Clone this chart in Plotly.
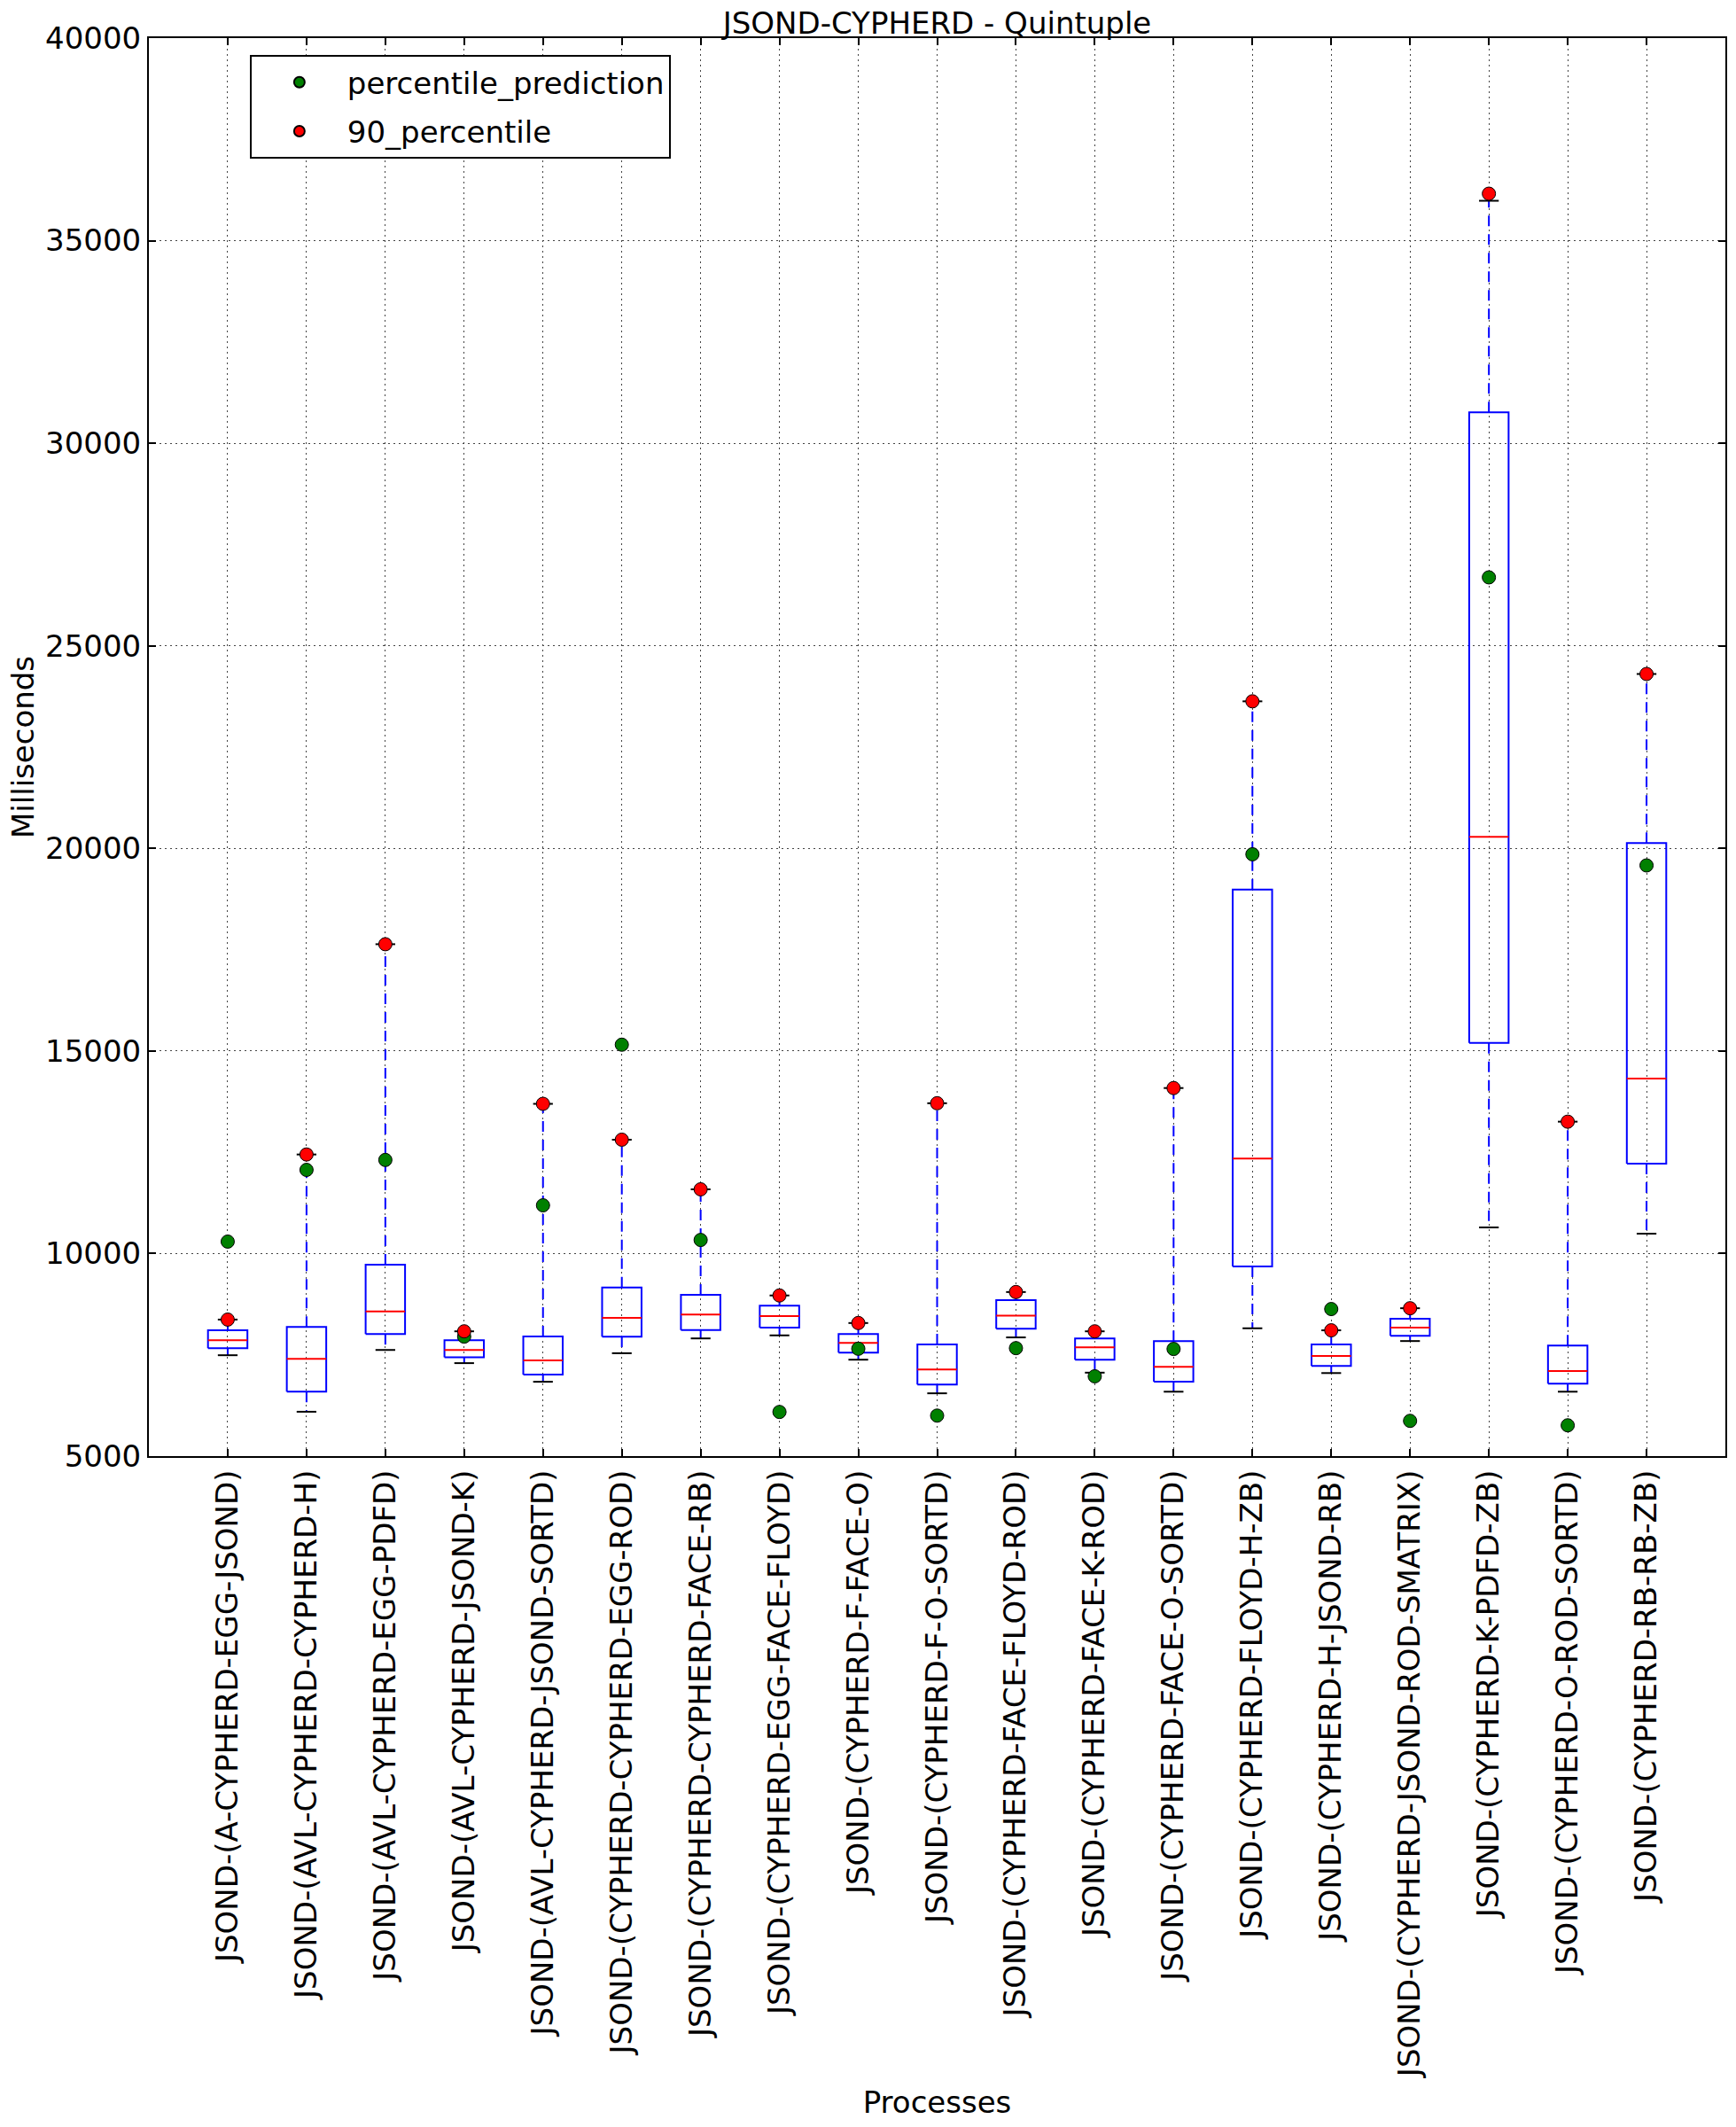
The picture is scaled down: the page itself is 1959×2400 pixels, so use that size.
import plotly.graph_objects as go

categories = [
    "JSOND-(A-CYPHERD-EGG-JSOND)",
    "JSOND-(AVL-CYPHERD-CYPHERD-H)",
    "JSOND-(AVL-CYPHERD-EGG-PDFD)",
    "JSOND-(AVL-CYPHERD-JSOND-K)",
    "JSOND-(AVL-CYPHERD-JSOND-SORTD)",
    "JSOND-(CYPHERD-CYPHERD-EGG-ROD)",
    "JSOND-(CYPHERD-CYPHERD-FACE-RB)",
    "JSOND-(CYPHERD-EGG-FACE-FLOYD)",
    "JSOND-(CYPHERD-F-FACE-O)",
    "JSOND-(CYPHERD-F-O-SORTD)",
    "JSOND-(CYPHERD-FACE-FLOYD-ROD)",
    "JSOND-(CYPHERD-FACE-K-ROD)",
    "JSOND-(CYPHERD-FACE-O-SORTD)",
    "JSOND-(CYPHERD-FLOYD-H-ZB)",
    "JSOND-(CYPHERD-H-JSOND-RB)",
    "JSOND-(CYPHERD-JSOND-ROD-SMATRIX)",
    "JSOND-(CYPHERD-K-PDFD-ZB)",
    "JSOND-(CYPHERD-O-ROD-SORTD)",
    "JSOND-(CYPHERD-RB-RB-ZB)",
]

whisker_low = [7490, 6095, 7620, 7295, 6835, 7540, 7905, 7980, 7380, 6550,
               7930, 7060, 6590, 8155, 7050, 7840, 10645, 6590, 10490]
q1 = [7665, 6590, 8015, 7440, 7010, 7950, 8110, 8170, 7555, 6765,
      8145, 7380, 6835, 9680, 7225, 7970, 15200, 6790, 12220]
median = [7860, 7400, 8570, 7620, 7360, 8410, 8495, 8455, 7795, 7140,
          8465, 7685, 7205, 12345, 7470, 8170, 20285, 7100, 14320]
q3 = [8105, 8190, 9725, 7860, 7955, 9160, 8980, 8715, 8015, 7755,
      8850, 7905, 7840, 18985, 7755, 8390, 30765, 7730, 20130]
whisker_high = [8370, 12445, 17635, 8080, 13695, 12810, 11585, 8965, 8285, 13710,
                9050, 8080, 14085, 23630, 8105, 8650, 35985, 13255, 24305]
percentile_90 = [8370, 12445, 17635, 8080, 13695, 12810, 11585, 8965, 8285, 13710,
                 9050, 8080, 14085, 23630, 8105, 8650, 36160, 13255, 24305]
percentile_prediction = [10295, 12065, 12310, 7950, 11190, 15155, 10335, 6090, 7650, 6000,
                         7665, 6970, 7645, 19855, 8630, 5870, 26690, 5760, 19580]

y_ticks = [5000, 10000, 15000, 20000, 25000, 30000, 35000, 40000]

positions = list(range(1, len(categories) + 1))
HALF_BOX = 0.25
HALF_CAP = 0.125

FONT = "DejaVu Sans"
FS = 34

fig = go.Figure()

# whiskers (dashed blue)
wx, wy = [], []
for p, lo, a, b, hi in zip(positions, whisker_low, q1, q3, whisker_high):
    wx += [p, p, None, p, p, None]
    wy += [b, hi, None, a, lo, None]
fig.add_trace(go.Scatter(x=wx, y=wy, mode="lines", showlegend=False, hoverinfo="skip",
                         line=dict(color="#0000ff", width=2, dash="12px,9px")))

# caps (black)
cx, cy = [], []
for p, lo, hi in zip(positions, whisker_low, whisker_high):
    cx += [p - HALF_CAP, p + HALF_CAP, None, p - HALF_CAP, p + HALF_CAP, None]
    cy += [hi, hi, None, lo, lo, None]
fig.add_trace(go.Scatter(x=cx, y=cy, mode="lines", showlegend=False, hoverinfo="skip",
                         line=dict(color="black", width=2)))

# boxes (blue)
bx, by = [], []
for p, a, b in zip(positions, q1, q3):
    bx += [p - HALF_BOX, p + HALF_BOX, p + HALF_BOX, p - HALF_BOX, p - HALF_BOX, None]
    by += [a, a, b, b, a, None]
fig.add_trace(go.Scatter(x=bx, y=by, mode="lines", showlegend=False, hoverinfo="skip",
                         line=dict(color="#0000ff", width=2)))

# medians (red)
mx, my = [], []
for p, m in zip(positions, median):
    mx += [p - HALF_BOX, p + HALF_BOX, None]
    my += [m, m, None]
fig.add_trace(go.Scatter(x=mx, y=my, mode="lines", showlegend=False, hoverinfo="skip",
                         line=dict(color="#ff0000", width=2)))

fig.add_trace(go.Scatter(x=positions, y=percentile_prediction, mode="markers",
                         name="percentile_prediction", legendgroup="pred",
                         marker=dict(color="#008000", size=15,
                                     line=dict(color="black", width=1))))
fig.add_trace(go.Scatter(x=positions, y=percentile_90, mode="markers",
                         name="90_percentile", legendgroup="p90",
                         marker=dict(color="#ff0000", size=15,
                                     line=dict(color="black", width=1))))

axis_common = dict(
    showline=True, linecolor="black", linewidth=2, mirror="ticks",
    ticks="inside", ticklen=8, tickwidth=1.5, tickcolor="black",
    showgrid=True, gridcolor="#444444", gridwidth=1, griddash="2px,4px",
    zeroline=False,
    tickfont=dict(family=FONT, size=FS, color="black"),
)

fig.update_layout(
    width=1959, height=2400,
    paper_bgcolor="white", plot_bgcolor="white",
    margin=dict(l=168, r=10, t=43, b=757),
    font=dict(family=FONT, size=FS, color="black"),
    title=dict(text="JSOND-CYPHERD - Quintuple", x=0.5, xanchor="center",
               xref="paper", yref="paper", y=1, yanchor="bottom",
               pad=dict(b=5, t=0), font=dict(family=FONT, size=FS, color="black")),
    xaxis=dict(range=[0, 20], tickmode="array", tickvals=positions, ticktext=categories,
               tickangle=-90,
               title=dict(text="Processes", standoff=16,
                          font=dict(family=FONT, size=FS, color="black")),
               **axis_common),
    yaxis=dict(range=[5000, 40000], tickmode="array",
               tickvals=y_ticks, ticktext=[str(v) for v in y_ticks],
               title=dict(text="Milliseconds", standoff=2,
                          font=dict(family=FONT, size=FS, color="black")),
               **axis_common),
    legend=dict(x=0.064, y=0.988, xanchor="left", yanchor="top",
                bgcolor="white", bordercolor="black", borderwidth=2,
                font=dict(family=FONT, size=FS, color="black"),
                itemsizing="constant", itemwidth=98, tracegroupgap=8),
    showlegend=True,
)

fig.write_html("out.html", config={"displayModeBar": False},
               post_script="document.body.style.margin='0px';")
